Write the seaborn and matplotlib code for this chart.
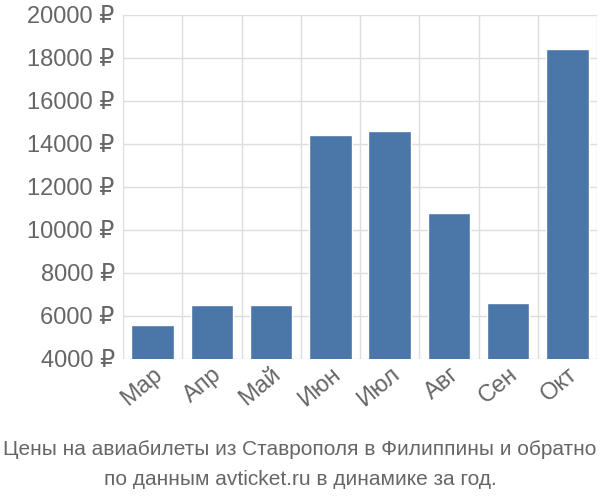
import numpy as np
import pandas as pd
import seaborn as sns
import matplotlib.pyplot as plt
from matplotlib.ticker import FixedLocator

months = ["Мар", "Апр", "Май", "Июн", "Июл", "Авг", "Сен", "Окт"]
prices = [5550, 6500, 6500, 14400, 14600, 10800, 6600, 18400]
yticks = [4000, 6000, 8000, 10000, 12000, 14000, 16000, 18000, 20000]

sns.set_style("white")
plt.rcParams['font.family'] = ['Liberation Sans', 'DejaVu Sans']

df = pd.DataFrame({"month": months, "price": prices})
fig = plt.figure(figsize=(6, 5), dpi=100)
ax = fig.add_axes([0.205, 0.283, 0.79, 0.687])
sns.barplot(data=df, x="month", y="price", color="#4a76a8", saturation=1, width=0.72, ax=ax)

ax.set_ylim(4000, 20000)
ax.set_xlim(-0.5, len(months) - 0.5)
ax.set_yticks(yticks)
ax.set_yticklabels([f"{v} ₽" for v in yticks])
ax.xaxis.set_minor_locator(FixedLocator(np.arange(-0.5, len(months), 1)))
ax.grid(True, axis="y", color="#dddddd", linewidth=1)
ax.grid(True, axis="x", which="minor", color="#dddddd", linewidth=1)
ax.set_axisbelow(True)
for s in ax.spines.values():
    s.set_visible(False)
ax.tick_params(axis="both", which="both", length=0, labelsize=17, colors="#666666")
ax.tick_params(axis="y", pad=6)
plt.setp(ax.get_xticklabels(), rotation=40, ha="right", rotation_mode="anchor")
ax.set_xlabel("")
ax.set_ylabel("")

fig.text(0.5, 0.09, "Цены на авиабилеты из Ставрополя в Филиппины и обратно", ha="center", fontsize=15, color="#666666")
fig.text(0.5, 0.03, "по данным avticket.ru в динамике за год.", ha="center", fontsize=15, color="#666666")

fig.savefig("out.png", dpi=100)
